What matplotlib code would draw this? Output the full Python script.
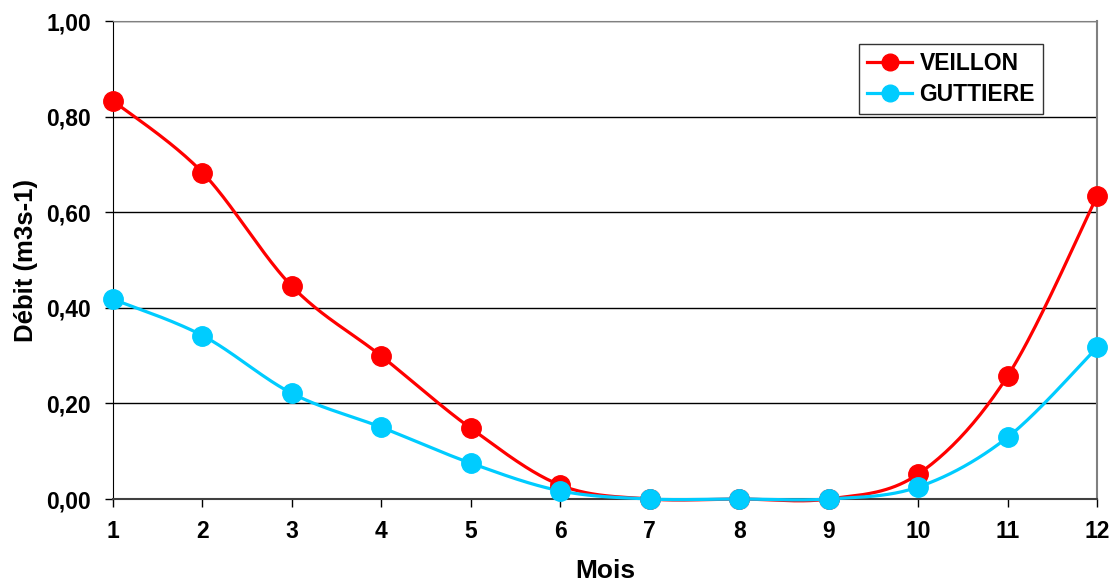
import matplotlib
matplotlib.use("Agg")
import matplotlib.pyplot as plt
import numpy as np

plt.rcParams['font.family'] = ['Liberation Sans', 'DejaVu Sans']
plt.rcParams['font.weight'] = 'bold'

# monthly mean discharge
mois = [1, 2, 3, 4, 5, 6, 7, 8, 9, 10, 11, 12]
veillon = [0.833, 0.683, 0.445, 0.299, 0.148, 0.029, 0.0, 0.0, 0.0, 0.052, 0.257, 0.633]
guttiere = [0.418, 0.342, 0.221, 0.150, 0.075, 0.017, 0.0, 0.0, 0.0, 0.025, 0.129, 0.317]
y_ticks = [0.0, 0.2, 0.4, 0.6, 0.8, 1.0]


def smooth(x, y, n=40):
    # Catmull-Rom style bezier, like a spreadsheet's "smoothed line"
    x = np.asarray(x, float)
    y = np.asarray(y, float)
    px = np.concatenate([[x[0]], x, [x[-1]]])
    py = np.concatenate([[y[0]], y, [y[-1]]])
    t = np.linspace(0, 1, n)
    xs, ys = [], []
    for i in range(1, len(px) - 2):
        p0 = np.array([px[i], py[i]])
        p3 = np.array([px[i + 1], py[i + 1]])
        p1 = p0 + (p3 - np.array([px[i - 1], py[i - 1]])) / 6
        p2 = p3 - (np.array([px[i + 2], py[i + 2]]) - p0) / 6
        b = ((1 - t) ** 3)[:, None] * p0 + (3 * (1 - t) ** 2 * t)[:, None] * p1 \
            + (3 * (1 - t) * t ** 2)[:, None] * p2 + (t ** 3)[:, None] * p3
        xs.append(b[:, 0])
        ys.append(b[:, 1])
    return np.concatenate(xs), np.concatenate(ys)


fig = plt.figure(figsize=(11.19, 5.84), dpi=100)
ax = fig.add_axes([113 / 1119, 85 / 584, (1097 - 113) / 1119, (499 - 21) / 584])

red = '#ff0000'
cyan = '#00ccff'
for vals, col, name in [(veillon, red, 'VEILLON'), (guttiere, cyan, 'GUTTIERE')]:
    sx, sy = smooth(mois, vals)
    ax.plot(sx, sy, color=col, lw=2.3, clip_on=False, zorder=3)
    ax.plot(mois, vals, 'o', color=col, ms=14, clip_on=False, zorder=4)
    ax.plot([], [], '-o', color=col, lw=2.3, ms=12, label=name)

ax.set_xlim(1, 12)
ax.set_ylim(0, 1.0)
ax.set_xticks(mois)
ax.set_yticks(y_ticks)
ax.set_yticklabels([('%.2f' % v).replace('.', ',') for v in y_ticks])
ax.tick_params(axis='both', labelsize=16.5, direction='out', length=6, width=1)
ax.tick_params(axis='x', pad=9)
ax.tick_params(axis='y', pad=10)
ax.grid(axis='y', color='black', lw=1)
ax.set_axisbelow(True)

ax.spines['left'].set_color('black')
ax.spines['bottom'].set_color('#404040')
ax.spines['bottom'].set_linewidth(1.5)
ax.spines['top'].set_color('#808080')
ax.spines['right'].set_color('#808080')
ax.spines['right'].set_linewidth(1.5)

ax.set_xlabel('Mois', fontsize=19, fontweight='bold', labelpad=12)
ax.set_ylabel('Débit (m3s-1)', fontsize=18.5, fontweight='bold', labelpad=6)

leg = ax.legend(loc='upper right', bbox_to_anchor=(0.945, 0.952), fontsize=16.5,
                frameon=True, fancybox=False, edgecolor='black', handlelength=2.0,
                handletextpad=0.3, borderpad=0.35, borderaxespad=0, labelspacing=0.35)
leg.get_frame().set_linewidth(1)

fig.savefig('out.png', dpi=100)
